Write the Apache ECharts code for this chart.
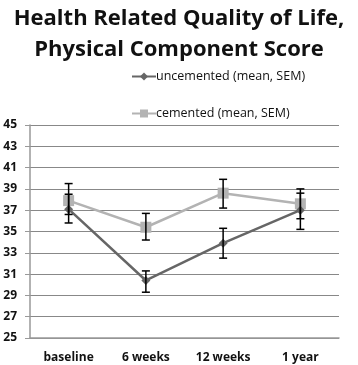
<!DOCTYPE html>
<html>
<head>
<meta charset="utf-8">
<script src="https://cdn.jsdelivr.net/npm/echarts@6/dist/echarts.min.js"></script>
<style>
  html, body { margin: 0; padding: 0; background: #fff; }
  #chart { width: 358px; height: 365px; }
</style>
</head>
<body>
<div id="chart"></div>
<script>
const categories = ['baseline', '6 weeks', '12 weeks', '1 year']
const uncementedMean = [37.1, 30.4, 33.9, 37.0]
const uncementedLow = [35.8, 29.3, 32.5, 35.2]
const uncementedHigh = [38.5, 31.3, 35.3, 38.6]
const cementedMean = [37.9, 35.4, 38.6, 37.6]
const cementedLow = [36.6, 34.2, 37.2, 36.2]
const cementedHigh = [39.5, 36.7, 39.9, 39.0]

const font = '"Open Sans", "Liberation Sans", sans-serif'

function errBars(low, high) {
  return {
    type: 'custom',
    silent: true,
    z: 5,
    data: categories.map((_, i) => [i, low[i], high[i]]),
    renderItem: (params, api) => {
      const lo = api.coord([api.value(0), api.value(1)])
      const hi = api.coord([api.value(0), api.value(2)])
      const w = 4
      const st = { stroke: '#000', lineWidth: 1.5 }
      return {
        type: 'group',
        children: [
          { type: 'line', shape: { x1: hi[0], y1: hi[1], x2: lo[0], y2: lo[1] }, style: st },
          { type: 'line', shape: { x1: hi[0] - w, y1: hi[1], x2: hi[0] + w, y2: hi[1] }, style: st },
          { type: 'line', shape: { x1: lo[0] - w, y1: lo[1], x2: lo[0] + w, y2: lo[1] }, style: st }
        ]
      }
    }
  }
}

const chart = echarts.init(document.getElementById('chart'))
chart.setOption({
  animation: false,
  title: {
    text: 'Health Related Quality of Life,\nPhysical Component Score',
    left: 'center',
    top: -2,
    textStyle: { fontFamily: font, fontSize: 22, fontWeight: 'bold', color: '#111', lineHeight: 31 }
  },
  legend: {
    orient: 'vertical',
    left: 126,
    top: 65,
    itemGap: 24,
    itemWidth: 24,
    itemHeight: 10,
    textStyle: { fontFamily: font, fontSize: 12.5, color: '#111', padding: [0, 0, 0, -5] },
    data: ['uncemented (mean, SEM)', 'cemented (mean, SEM)']
  },
  grid: { left: 30, right: 19, top: 125, bottom: 27 },
  xAxis: {
    type: 'category',
    data: categories,
    axisLine: { lineStyle: { color: '#999', width: 1.5 } },
    axisTick: { lineStyle: { color: '#999' }, length: 5 },
    axisLabel: { fontFamily: font, fontSize: 12, fontWeight: 'bold', color: '#111', margin: 14 }
  },
  yAxis: {
    type: 'value',
    min: 25,
    max: 45,
    interval: 2,
    axisLine: { show: true, lineStyle: { color: '#999', width: 1.5 } },
    axisTick: { show: true, length: 5, lineStyle: { color: '#999' } },
    splitLine: { lineStyle: { color: '#888', width: 1 } },
    axisLabel: { fontFamily: font, fontSize: 12, fontWeight: 'bold', color: '#111', margin: 13 }
  },
  series: [
    {
      name: 'cemented (mean, SEM)',
      type: 'line',
      data: cementedMean,
      symbol: 'rect',
      symbolSize: 11,
      lineStyle: { color: '#b3b3b3', width: 2.5 },
      itemStyle: { color: '#b3b3b3' },
      z: 3
    },
    {
      name: 'uncemented (mean, SEM)',
      type: 'line',
      data: uncementedMean,
      symbol: 'diamond',
      symbolSize: 9,
      lineStyle: { color: '#666', width: 2.5 },
      itemStyle: { color: '#666' },
      z: 4
    },
    errBars(cementedLow, cementedHigh),
    errBars(uncementedLow, uncementedHigh)
  ]
})
</script>
</body>
</html>
